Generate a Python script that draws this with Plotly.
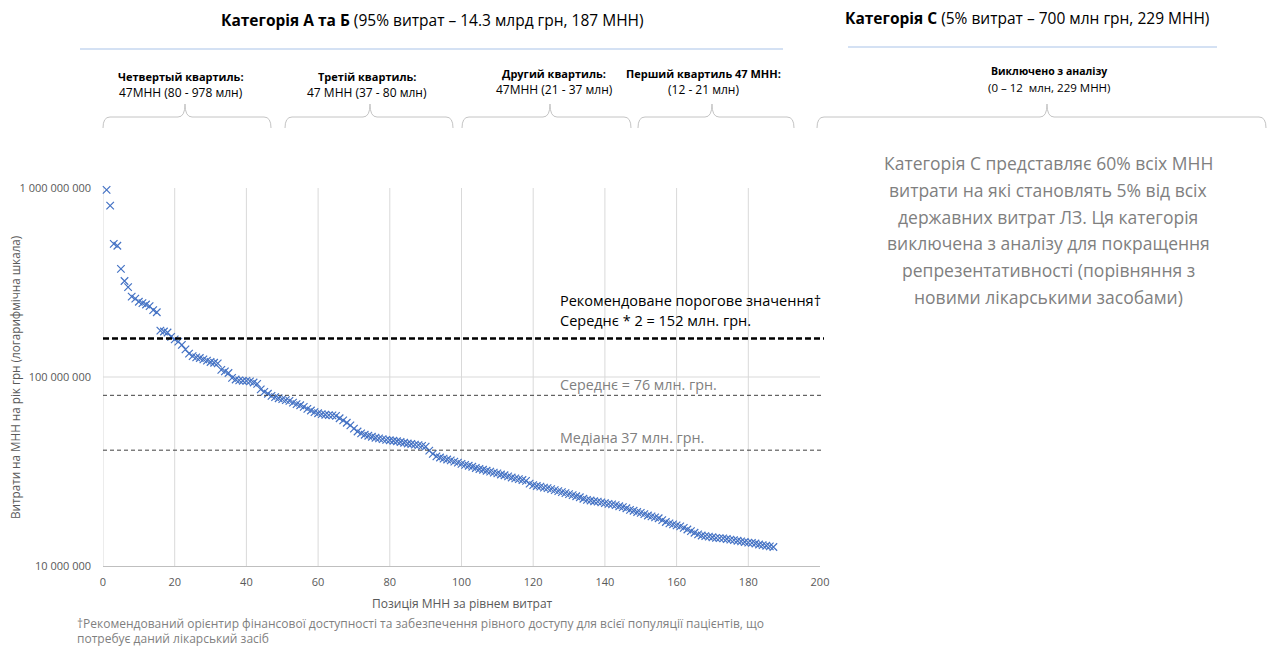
import plotly.graph_objects as go

# ---------------- data ----------------
positions = list(range(1, 188))
spend_mln = [
    978, 806, 506, 495, 373, 322, 299, 266, 260, 250,
    246, 242, 237, 226, 220, 176, 174, 172, 163, 158,
    154, 148, 140, 133, 129, 127, 126, 124, 122, 120,
    119, 118, 109, 107, 105, 99, 97, 96, 95.5, 95.3,
    94.8, 93.5, 92, 86, 83.5, 81.5, 79.5, 78.3, 77.2, 76.3,
    75.5, 74.8, 73.2, 71.8, 70.9, 69.5, 67.8, 66.5, 65.2, 64.3,
    63.6, 63.1, 62.8, 62.6, 62.3, 60.5, 59, 57.3, 55.5, 53.3,
    51.5, 50.3, 49.5, 48.9, 48.3, 47.7, 47.3, 46.9, 46.5, 46.3,
    46.0, 45.7, 45.3, 44.9, 44.5, 44.2, 43.9, 43.6, 43.2, 42.8,
    40.8, 39.2, 38.0, 37.5, 37.0, 36.6, 36.2, 35.7, 35.2, 34.7,
    34.3, 33.9, 33.5, 33.0, 32.6, 32.3, 31.9, 31.6, 31.2, 30.9,
    30.5, 30.2, 29.8, 29.4, 29.1, 28.8, 28.5, 28.2, 27.3, 26.8,
    26.5, 26.3, 26.0, 25.8, 25.5, 25.2, 24.9, 24.6, 24.3, 24.0,
    23.7, 23.4, 23.1, 22.7, 22.4, 22.2, 22.0, 21.9, 21.7, 21.5,
    21.3, 21.2, 21.0, 20.7, 20.5, 20.2, 19.8, 19.6, 19.3, 19.1,
    18.8, 18.5, 18.3, 18.1, 17.9, 17.5, 17.1, 16.8, 16.6, 16.4,
    16.2, 15.9, 15.6, 15.3, 15.0, 14.7, 14.5, 14.4, 14.3, 14.2,
    14.1, 14.05, 14.0, 13.9, 13.8, 13.7, 13.6, 13.5, 13.4, 13.3,
    13.25, 13.15, 13.0, 12.9, 12.8, 12.7, 12.6,
]
threshold_mln = 160   # drawn position of "Середнє * 2" line
mean_mln = 80         # drawn position of "Середнє" line
median_mln = 41       # drawn position of "Медіана" line

xtick_vals = [0, 20, 40, 60, 80, 100, 120, 140, 160, 180, 200]
ytick_vals = [1e7, 1e8, 1e9]
ytick_text = ["10 000 000", "100 000 000", "1 000 000 000"]

header_ab = "<b>Категорія А та Б</b> (95% витрат – 14.3 млрд грн, 187 МНН)"
header_c = "<b>Категорія С</b> (5% витрат – 700 млн грн, 229 МНН)"
quartile_titles = ["Четвертый квартиль:", "Третій квартиль:", "Другий квартиль:",
                   "Перший квартиль 47 МНН:", "Виключено з аналізу"]
quartile_subs = ["47МНН (80 - 978 млн)", "47 МНН (37 - 80 млн)", "47МНН (21 - 37 млн)",
                 "(12 - 21 млн)", "(0 – 12  млн, 229 МНН)"]
side_lines = ["Категорія С представляє 60% всіх МНН",
              "витрати на які становлять 5% від всіх",
              "державних витрат ЛЗ. Ця категорія",
              "виключена з аналізу для покращення",
              "репрезентативності (порівняння з",
              "новими лікарськими засобами)"]
threshold_lines = ["Рекомендоване порогове значення†", "Середнє * 2 = 152 млн. грн."]
mean_label = "Середнє = 76 млн. грн."
median_label = "Медіана 37 млн. грн."
footnote_lines = ["†Рекомендований орієнтир фінансової доступності та забезпечення рівного доступу для всієї популяції пацієнтів, що",
                  "потребує даний лікарський засіб"]

# ---------------- layout geometry (pixels) ----------------
W, H = 1269, 646
ML, MR, MT, MB = 103, 449, 188, 80
PW, PH = W - ML - MR, H - MT - MB


def PX(x):
    return (x - ML) / PW


def PY(y):
    return (H - MB - y) / PH


FONT = "Open Sans"
fig = go.Figure()
fig.add_trace(go.Scatter(
    x=positions, y=[v * 1e6 for v in spend_mln], mode="markers",
    marker=dict(symbol="x-thin", size=7.5, line=dict(width=1.2, color="#4472C4"), color="#4472C4"),
    cliponaxis=False, showlegend=False, hoverinfo="x+y",
))

shapes = []
# gridlines
shapes.append(dict(type="line", xref="x", yref="y", x0=0, x1=200, y0=1e8, y1=1e8,
                   line=dict(color="#d9d9d9", width=1), layer="below"))
for xv in xtick_vals[:-1]:
    shapes.append(dict(type="line", xref="x", yref="paper", x0=xv, x1=xv, y0=0, y1=1,
                       line=dict(color="#d9d9d9", width=1), layer="below"))
# reference lines
shapes.append(dict(type="line", xref="paper", yref="y", x0=0, x1=PX(824),
                   y0=threshold_mln * 1e6, y1=threshold_mln * 1e6,
                   line=dict(color="#000000", width=2.5, dash="6px,3px")))
for v in (mean_mln, median_mln):
    shapes.append(dict(type="line", xref="paper", yref="y", x0=0, x1=PX(824),
                       y0=v * 1e6, y1=v * 1e6,
                       line=dict(color="#404040", width=1, dash="4px,3px")))

# header lines
shapes.append(dict(type="line", xref="paper", yref="paper", x0=PX(80), x1=PX(783),
                   y0=PY(49), y1=PY(49), line=dict(color="#a9c3e8", width=1)))
shapes.append(dict(type="line", xref="paper", yref="paper", x0=PX(848), x1=PX(1217),
                   y0=PY(47), y1=PY(47), line=dict(color="#a9c3e8", width=1)))


def brace(x0, x1, xc, ye=128, yl=117, yt=104, r=7):
    pts = [
        ("M", [(x0, ye)]),
        ("Q", [(x0, yl), (x0 + r, yl)]),
        ("L", [(xc - r, yl)]),
        ("Q", [(xc, yl), (xc, yt)]),
        ("Q", [(xc, yl), (xc + r, yl)]),
        ("L", [(x1 - r, yl)]),
        ("Q", [(x1, yl), (x1, ye)]),
    ]
    s = ""
    for cmd, ps in pts:
        s += cmd + " " + " ".join(f"{PX(a):.5f},{PY(b):.5f}" for a, b in ps) + " "
    return s.strip()


brace_spans = [(103, 271, 185), (285, 453, 370), (462, 631, 550), (638, 794, 712), (817, 1266, 1047)]
for x0, x1, xc in brace_spans:
    shapes.append(dict(type="path", xref="paper", yref="paper", path=brace(x0, x1, xc),
                       line=dict(color="#c4c4c4", width=1)))

ann = []


def text(x, y, t, size, color="#000000", xanchor="center", align="center", yanchor="middle", angle=0):
    ann.append(dict(x=PX(x), y=PY(y), xref="paper", yref="paper", text=t, showarrow=False,
                    xanchor=xanchor, yanchor=yanchor, align=align, textangle=angle,
                    font=dict(family=FONT, size=size, color=color)))


text(432, 20, header_ab, 15.5)
text(1027, 18, header_c, 15.5)
q_centers = [181, 367, 554, 703, 1049]
q_y = [77, 77, 74, 74, 71]
for cx, cy, t, s in zip(q_centers, q_y, quartile_titles, quartile_subs):
    text(cx, cy, "<b>" + t + "</b>", 11 if cx < 1000 else 10.5)
    text(cx, cy + 16, s, 12 if cx < 1000 else 11.5)

for i, line in enumerate(side_lines):
    text(1048, 163 + i * 26.8, line, 17.5, color="#7f7f7f")

text(558, 300, threshold_lines[0], 14.5, xanchor="left")
text(558, 320, threshold_lines[1], 14.5, xanchor="left")
text(558, 384, mean_label, 14.3, color="#7f7f7f", xanchor="left")
text(558, 437, median_label, 14.3, color="#7f7f7f", xanchor="left")

text(462, 603, "Позиція МНН за рівнем витрат", 12, color="#595959")
text(15, 378, "Витрати на МНН на рік грн (логарифмічна шкала)", 11.7, color="#595959", angle=-90)
for i, line in enumerate(footnote_lines):
    text(75, 623 + i * 15.5, line, 12, color="#7f7f7f", xanchor="left")

fig.update_layout(
    width=W, height=H, margin=dict(l=ML, r=MR, t=MT, b=MB, pad=0),
    paper_bgcolor="white", plot_bgcolor="white",
    font=dict(family=FONT, color="#595959"),
    shapes=shapes, annotations=ann, showlegend=False,
    xaxis=dict(range=[0, 200], tickvals=xtick_vals, showgrid=False,
               zeroline=False, showline=True, linecolor="#bfbfbf", linewidth=1,
               ticks="", tickfont=dict(size=11, color="#595959"), ticklabelstandoff=6),
    yaxis=dict(type="log", range=[7, 9], tickvals=ytick_vals, ticktext=ytick_text,
               showgrid=False, zeroline=False, showline=False, ticks="",
               tickfont=dict(size=11, color="#595959"), ticklabelstandoff=11),
)

fig.write_html("out.html", config={"displayModeBar": False},
               post_script="document.body.style.margin='0';document.body.style.overflow='hidden';")
